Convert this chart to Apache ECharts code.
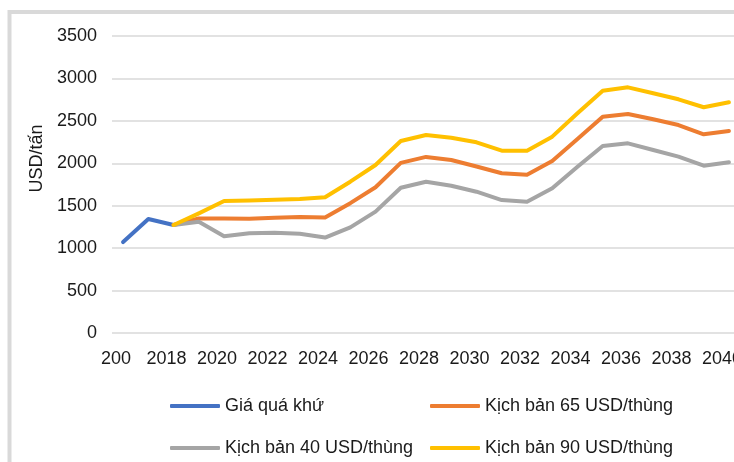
<!DOCTYPE html>
<html>
<head>
    <meta charset="utf-8">
    <title>ECharts</title>
    <script src="https://cdn.jsdelivr.net/npm/echarts@6/dist/echarts.min.js"></script>
    <style>
        html, body { margin: 0; padding: 0; background: #fff; }
    </style>
</head>
<body>
<div id="main" style="width: 734px;height:462px;"></div>
<script type="text/javascript">
    // years
    var histYears = [2016, 2017, 2018];
    var scenYears = [2018, 2019, 2020, 2021, 2022, 2023, 2024, 2025, 2026, 2027, 2028, 2029,
        2030, 2031, 2032, 2033, 2034, 2035, 2036, 2037, 2038, 2039, 2040];
    var tickYears = [2016, 2018, 2020, 2022, 2024, 2026, 2028, 2030, 2032, 2034, 2036, 2038, 2040];

    // USD/tấn
    var giaQuaKhu = [1072, 1343, 1273];
    var kb65 = [1273, 1350, 1350, 1345, 1358, 1368, 1362, 1530, 1717, 2005, 2075, 2038,
        1962, 1882, 1866, 2027, 2286, 2549, 2581, 2518, 2451, 2341, 2380];
    var kb40 = [1273, 1310, 1140, 1175, 1180, 1170, 1125, 1245, 1430, 1712, 1783, 1736,
        1665, 1567, 1547, 1705, 1960, 2204, 2235, 2156, 2078, 1972, 2011];
    var kb90 = [1273, 1410, 1555, 1562, 1570, 1579, 1600, 1783, 1980, 2262, 2333, 2302,
        2247, 2149, 2149, 2314, 2589, 2856, 2895, 2825, 2754, 2660, 2719];

    function pairs(xs, ys) {
        var out = [];
        for (var i = 0; i < xs.length; i++) {
            out.push([xs[i], ys[i]]);
        }
        return out;
    }

    // no condensed face installed: shrink the sans font so text widths match the picture
    var fontName = "'Liberation Sans', Arial, sans-serif";
    var ctx = document.createElement('canvas').getContext('2d');
    ctx.font = '20px ' + fontName;
    var fontSize = Math.round(20 * 189 / ctx.measureText('Kịch bản 65 USD/thùng').width * 2) / 2;

    var myChart = echarts.init(document.getElementById('main'));

    function lineSeries(name, xs, ys, color) {
        return {
            name: name,
            type: 'line',
            data: pairs(xs, ys),
            symbol: 'none',
            color: color,
            lineStyle: {width: 4, color: color, cap: 'round', join: 'round'}
        };
    }

    var txt = {fontFamily: fontName, fontSize: fontSize, color: '#1a1a1a'};
    var legendText = Object.assign({width: 205, lineHeight: 22}, txt);

    var option = {
        animation: false,
        graphic: [{
            type: 'rect',
            shape: {x: 9.5, y: 12, width: 800, height: 500},
            style: {fill: 'none', stroke: '#d9d9d9', lineWidth: 4}
        }],
        grid: {left: 112, right: 0, top: 36, bottom: 129, outerBoundsMode: 'none'},
        legend: [{
            left: 170, top: 395, padding: 0, itemGap: 0, itemWidth: 50, itemHeight: 4,
            icon: 'roundRect',
            data: ['Giá quá khứ', 'Kịch bản 65 USD/thùng'],
            textStyle: legendText
        }, {
            left: 170, top: 437, padding: 0, itemGap: 0, itemWidth: 50, itemHeight: 4,
            icon: 'roundRect',
            data: ['Kịch bản 40 USD/thùng', 'Kịch bản 90 USD/thùng'],
            textStyle: legendText
        }],
        xAxis: {
            type: 'value',
            min: 2015.56,
            max: 2040.2,
            axisLine: {show: false},
            axisTick: {show: false},
            splitLine: {show: false},
            axisLabel: Object.assign({
                customValues: tickYears,
                margin: 17,
                padding: [0, 14, 0, 0],
                formatter: function (v) {
                    return v === 2016 ? '200' : String(v);
                }
            }, txt)
        },
        yAxis: {
            type: 'value',
            min: 0,
            max: 3500,
            interval: 500,
            name: 'USD/tấn',
            nameLocation: 'middle',
            nameGap: 64,
            nameTextStyle: Object.assign({padding: [0, 0, 0, 52]}, txt),
            axisLine: {show: false},
            axisTick: {show: false},
            axisLabel: Object.assign({
                margin: 15,
                formatter: function (v) { return String(v); }
            }, txt),
            splitLine: {lineStyle: {color: '#d9d9d9', width: 1.5}}
        },
        series: [
            lineSeries('Giá quá khứ', histYears, giaQuaKhu, '#4472c4'),
            lineSeries('Kịch bản 65 USD/thùng', scenYears, kb65, '#ed7d31'),
            lineSeries('Kịch bản 40 USD/thùng', scenYears, kb40, '#a5a5a5'),
            lineSeries('Kịch bản 90 USD/thùng', scenYears, kb90, '#ffc000')
        ]
    };

    myChart.setOption(option);
</script>
</body>
</html>
